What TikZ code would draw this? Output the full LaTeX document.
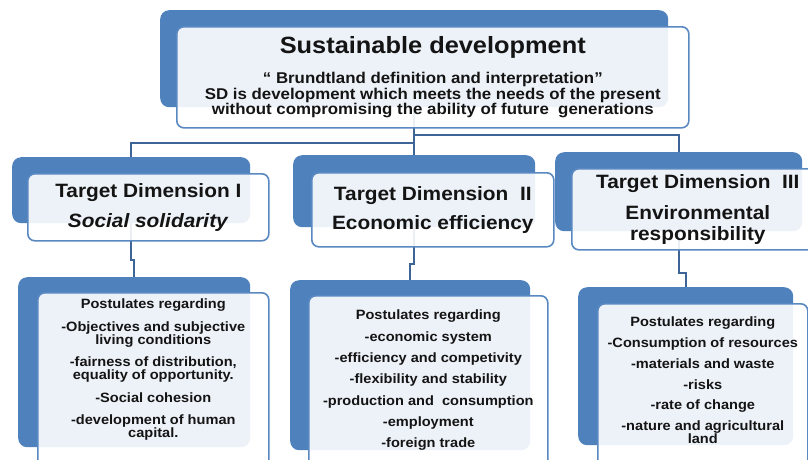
\documentclass[tikz,border=0pt]{standalone}
\usepackage{fontspec}
\setmainfont{Liberation Sans}[FakeStretch=1.08]
\usetikzlibrary{positioning,calc}
\definecolor{ink}{HTML}{141414}
\definecolor{cBack}{HTML}{4F81BD}
\definecolor{cEdge}{HTML}{5A88C1}
\definecolor{cLink}{HTML}{3D6597}
\lineskiplimit=-40pt
\tikzset{
  bk/.style  = {rounded corners=9pt, fill=cBack, draw=none, inner sep=0pt, anchor=north west},
  fr/.style  = {rounded corners=7pt, fill=white, fill opacity=0.9, text opacity=1, draw=cEdge,
                line width=1.6pt, align=center, text=ink, inner sep=0pt, anchor=north west},
  ln/.style  = {draw=cLink, line width=2pt},
  ttl/.style = {font=\bfseries\fontsize{15.6}{15.5}\selectfont},
  tgt/.style = {font=\bfseries\fontsize{19.3}{21}\selectfont},
  pst/.style = {align=center, text=ink, inner sep=0pt, font=\bfseries\fontsize{13.5}{13}\selectfont},
}

\begin{document}
\begin{tikzpicture}[x=1pt, y=-1pt]
  \useasboundingbox (0,0) rectangle (808,459);
  \clip (0,0) rectangle (808,459);
  \fill[white] (0,0) rectangle (808,459);

  % blue backs
  \node[bk, minimum width=508pt, minimum height=97pt] (topb) at (160,10) {};
  \node[bk, minimum width=238pt, minimum height=66pt] (t1b) at (12,157) {};
  \node[bk, minimum width=242pt, minimum height=72pt] (t2b) at (293,155) {};
  \node[bk, minimum width=247pt, minimum height=79pt] (t3b) at (555,152) {};
  \node[bk, minimum width=232pt, minimum height=170pt] (p1b) at (18,277) {};
  \node[bk, minimum width=240pt, minimum height=170pt] (p2b) at (290,280) {};
  \node[bk, minimum width=215pt, minimum height=158pt] (p3b) at (578,287) {};

  % connectors
  \draw[ln] (topb.south) -- (t2b.north);
  \draw[ln] ($(topb.south)!0.75!(t2b.north)$) -| (t1b.north);
  \draw[ln] ($(topb.south)!0.58!(t2b.north)$) -| (t3b.north);
  \draw[ln] (t1b.south) -- ++(0,37) -| (p1b.north);
  \draw[ln] (t2b.south) -- ++(0,37) -| (p2b.north);
  \draw[ln] (t3b.south) -- ++(0,42) -| (p3b.north);

  % front boxes
  \node[fr, ttl, minimum width=512pt, minimum height=101pt] (topf) at (176,26)
       {{\fontsize{23.5}{28}\selectfont Sustainable development}\\[14.5pt]
        “ Brundtland definition and interpretation”\\
        SD is development which meets the needs of the present\\
        without compromising the ability of future\ \ generations};
  \node[fr, tgt, minimum width=241pt, minimum height=67pt] (t1f) at (27,173)
       {Target Dimension I\\[9pt] \textit{Social solidarity}};
  \node[fr, tgt, minimum width=242pt, minimum height=74pt] (t2f) at (311,172)
       {Target Dimension\ \ II\\[8pt] Economic efficiency};
  \node[fr, tgt, minimum width=252pt, minimum height=81pt] (t3f) at (571,168)
       {Target Dimension\ \ III\\[10pt] Environmental\\ responsibility};
  \node[fr, minimum width=231pt, minimum height=190pt] (p1f) at (37,292) {};
  \node[fr, minimum width=239pt, minimum height=190pt] (p2f) at (308,295) {};
  \node[fr, minimum width=210pt, minimum height=190pt] (p3f) at (597,303) {};

  \node[pst, below=7pt of p1f.north] (p1t)
       {Postulates regarding\\[9.5pt]
        -Objectives and subjective\\ living conditions\\[9.5pt]
        -fairness of distribution,\\ equality of opportunity.\\[9.5pt]
        -Social cohesion\\[9.5pt]
        -development of human\\ capital.};
  \node[pst, below=15pt of p2f.north] (p2t)
       {Postulates regarding\\[8.3pt]
        -economic system\\[8.3pt]
        -efficiency and competivity\\[8.3pt]
        -flexibility and stability\\[8.3pt]
        -production and\ \ consumption\\[8.3pt]
        -employment\\[8.3pt]
        -foreign trade};
  \node[pst, below=14pt of p3f.north] (p3t)
       {Postulates regarding\\[7.5pt]
        -Consumption of resources\\[8pt]
        -materials and waste\\[8pt]
        -risks\\[7.5pt]
        -rate of change\\[8pt]
        -nature and agricultural\\ land};
\end{tikzpicture}
\end{document}
